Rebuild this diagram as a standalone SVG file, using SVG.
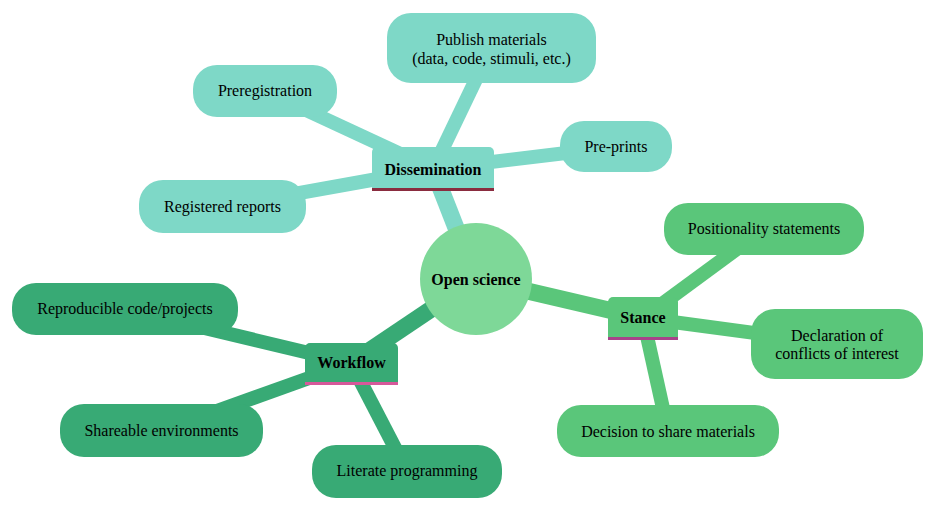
<svg xmlns="http://www.w3.org/2000/svg" width="936" height="512" viewBox="0 0 936 512" font-family="Liberation Serif, Times New Roman, serif">
<style>
text{font-size:16px;fill:#000;text-anchor:middle}
.b{font-weight:bold}
.e0{fill:none;stroke-width:17;stroke-linecap:butt}
.e1{fill:none;stroke-width:14;stroke-linecap:butt}
.s1{stroke:#7ED8C7}.s2{stroke:#38AA75}.s3{stroke:#5AC67A}
.f1{fill:#7ED8C7}.f2{fill:#38AA75}.f3{fill:#5AC67A}
</style>
<rect width="936" height="512" fill="#fff"/>
<g id="connectors">
<line class="e0 s1" x1="476" y1="279" x2="433" y2="169"/>
<line class="e0 s2" x1="476" y1="279" x2="351" y2="363"/>
<line class="e0 s3" x1="476" y1="279" x2="643" y2="318"/>
<line class="e1 s1" x1="433" y1="169" x2="491" y2="48"/>
<line class="e1 s1" x1="433" y1="169" x2="265" y2="91"/>
<line class="e1 s1" x1="433" y1="169" x2="616" y2="147"/>
<line class="e1 s1" x1="433" y1="169" x2="222" y2="207"/>
<line class="e1 s2" x1="351" y1="363" x2="125" y2="309"/>
<line class="e1 s2" x1="351" y1="363" x2="161" y2="431"/>
<line class="e1 s2" x1="351" y1="363" x2="407" y2="471"/>
<line class="e1 s3" x1="643" y1="318" x2="764" y2="229"/>
<line class="e1 s3" x1="643" y1="318" x2="837" y2="344"/>
<line class="e1 s3" x1="643" y1="318" x2="668" y2="431"/>
</g>
<g id="root">
<circle cx="476" cy="279" r="56" fill="#7ED898"/>
<text class="b" x="476" y="285">Open science</text>
</g>
<g id="dissemination">
<path class="f1" d="M372 189 V152 a5 5 0 0 1 5 -5 H489 a5 5 0 0 1 5 5 V189 Z"/>
<line x1="372" y1="189.5" x2="494" y2="189.5" stroke="#8A2C3F" stroke-width="3"/>
<text class="b" x="433" y="175">Dissemination</text>
</g>
<g id="workflow">
<path class="f2" d="M305 383 V348 a5 5 0 0 1 5 -5 H393 a5 5 0 0 1 5 5 V383 Z"/>
<line x1="305" y1="383.5" x2="398" y2="383.5" stroke="#D6589A" stroke-width="3"/>
<text class="b" x="351.5" y="368">Workflow</text>
</g>
<g id="stance">
<path class="f3" d="M608 338 V302 a5 5 0 0 1 5 -5 H673 a5 5 0 0 1 5 5 V338 Z"/>
<line x1="608" y1="338.5" x2="678" y2="338.5" stroke="#A8428A" stroke-width="3"/>
<text class="b" x="643" y="323">Stance</text>
</g>
<g id="publish">
<rect class="f1" x="387" y="13" width="209" height="70" rx="24"/>
<text x="491.5" y="45">Publish materials</text>
<text x="491.5" y="64">(data, code, stimuli, etc.)</text>
</g>
<g id="preregistration">
<rect class="f1" x="193" y="65" width="144" height="52" rx="24"/>
<text x="265" y="96">Preregistration</text>
</g>
<g id="preprints">
<rect class="f1" x="560" y="121" width="112" height="51" rx="24"/>
<text x="616" y="152">Pre-prints</text>
</g>
<g id="registered">
<rect class="f1" x="139" y="180" width="167" height="53" rx="24"/>
<text x="222.5" y="212">Registered reports</text>
</g>
<g id="positionality">
<rect class="f3" x="664" y="203" width="200" height="52" rx="24"/>
<text x="764" y="234">Positionality statements</text>
</g>
<g id="declaration">
<rect class="f3" x="751" y="309" width="172" height="70" rx="24"/>
<text x="837" y="341">Declaration of</text>
<text x="837" y="359">conflicts of interest</text>
</g>
<g id="decision">
<rect class="f3" x="557" y="405" width="222" height="52" rx="24"/>
<text x="668" y="437">Decision to share materials</text>
</g>
<g id="reproducible">
<rect class="f2" x="12" y="283" width="226" height="52" rx="24"/>
<text x="125" y="314">Reproducible code/projects</text>
</g>
<g id="shareable">
<rect class="f2" x="60" y="404" width="203" height="53" rx="24"/>
<text x="161.5" y="436">Shareable environments</text>
</g>
<g id="literate">
<rect class="f2" x="312" y="445" width="190" height="53" rx="24"/>
<text x="407" y="476">Literate programming</text>
</g>
</svg>
